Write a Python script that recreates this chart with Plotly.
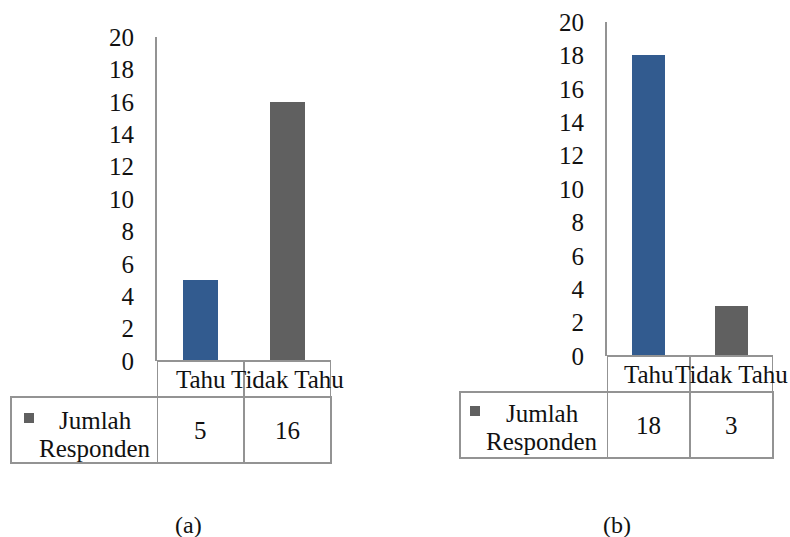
import plotly.graph_objects as go

# ---- data ----
categories = ["Tahu", "Tidak Tahu"]
responden_a = [5, 16]
responden_b = [18, 3]
y_ticks = [0, 2, 4, 6, 8, 10, 12, 14, 16, 18, 20]
series_name = ["Jumlah", "Responden"]
panel_labels = ["(a)", "(b)"]

# ---- styling ----
W, H = 790, 537
BLUE = "#325b8f"
GRAY = "#606060"
BORDER = "#939393"
TEXT = "#111111"
FONT = "'Times New Roman', 'Liberation Serif', 'DejaVu Serif', serif"


def fx(px):
    return px / W


def fy(py):
    return 1 - py / H


# pixel layout of each panel: axis span, zero line, top, table edges, captions
panels = [
    dict(values=responden_a, ax0=157, ax1=331, y0=361, ytop=37,
         tleft=11, catb=397, tbot=463, keyx=29, keyy=418, labx=95,
         laby=(420, 448), capx=188),
    dict(values=responden_b, ax0=607, ax1=773, y0=356, ytop=22,
         tleft=460, catb=392, tbot=458, keyx=475, keyy=411, labx=542,
         laby=(413, 441), capx=617),
]

fig = go.Figure()
shapes = []
annotations = []

for i, p in enumerate(panels):
    sfx = "" if i == 0 else "2"
    xa, ya = "x" + sfx, "y" + sfx
    fig.add_trace(go.Bar(
        x=categories, y=p["values"], xaxis=xa, yaxis=ya,
        marker=dict(color=[BLUE, GRAY], line=dict(width=0)),
        width=0.4, showlegend=False, hoverinfo="x+y",
    ))
    axis_key = "xaxis" + sfx
    yaxis_key = "yaxis" + sfx
    fig.layout[axis_key] = dict(
        domain=[fx(p["ax0"]), fx(p["ax1"])], anchor=ya,
        range=[-0.5, 1.5], showticklabels=False, showgrid=False,
        zeroline=False, showline=False, ticks="", fixedrange=True,
    )
    fig.layout[yaxis_key] = dict(
        domain=[fy(p["y0"]), fy(p["ytop"])], anchor=xa,
        range=[0, 20], tickvals=y_ticks, showgrid=False, zeroline=False,
        showline=True, linecolor=BORDER, linewidth=2, ticks="",
        ticklabelstandoff=16,
        tickfont=dict(family=FONT, size=25, color=TEXT), fixedrange=True,
    )

    line = dict(color=BORDER, width=2)
    # category row
    shapes.append(dict(type="rect", xref=xa, yref="paper",
                       x0=-0.5, x1=1.5, y0=fy(p["catb"]), y1=fy(p["y0"]),
                       line=line))
    # data row including legend column
    shapes.append(dict(type="rect", xref="paper", yref="paper",
                       x0=fx(p["tleft"]), x1=fx(p["ax1"]),
                       y0=fy(p["tbot"]), y1=fy(p["catb"]), line=line))
    # column separators
    for xb in (-0.5, 0.5):
        shapes.append(dict(type="line", xref=xa, yref="paper",
                           x0=xb, x1=xb, y0=fy(p["tbot"]), y1=fy(p["y0"]),
                           line=line))
    # legend key
    k = 5
    shapes.append(dict(type="rect", xref="paper", yref="paper",
                       x0=fx(p["keyx"] - k), x1=fx(p["keyx"] + k),
                       y0=fy(p["keyy"] + k), y1=fy(p["keyy"] - k),
                       fillcolor=GRAY, line=dict(width=0)))
    for txt, ly in zip(series_name, p["laby"]):
        annotations.append(dict(xref="paper", yref="paper", x=fx(p["labx"]),
                                y=fy(ly), text=txt, showarrow=False,
                                xanchor="center", yanchor="middle",
                                font=dict(family=FONT, size=25, color=TEXT)))

    cat_mid = (p["y0"] + p["catb"]) / 2
    row_mid = (p["catb"] + p["tbot"]) / 2
    for j, (c, v) in enumerate(zip(categories, p["values"])):
        annotations.append(dict(xref=xa, yref="paper", x=j, y=fy(cat_mid),
                                text=c, showarrow=False, xanchor="center",
                                yanchor="middle",
                                font=dict(family=FONT, size=25, color=TEXT)))
        annotations.append(dict(xref=xa, yref="paper", x=j, y=fy(row_mid),
                                text=str(v), showarrow=False,
                                xanchor="center", yanchor="middle",
                                font=dict(family=FONT, size=25, color=TEXT)))

    annotations.append(dict(xref="paper", yref="paper", x=fx(p["capx"]),
                            y=fy(525), text=panel_labels[i], showarrow=False,
                            xanchor="center", yanchor="middle",
                            font=dict(family=FONT, size=24, color=TEXT)))

fig.update_layout(
    width=W, height=H,
    margin=dict(l=0, r=0, t=0, b=0, pad=0, autoexpand=False),
    paper_bgcolor="white", plot_bgcolor="white",
    shapes=shapes, annotations=annotations, bargap=0,
)

fig.write_html("out.html")
